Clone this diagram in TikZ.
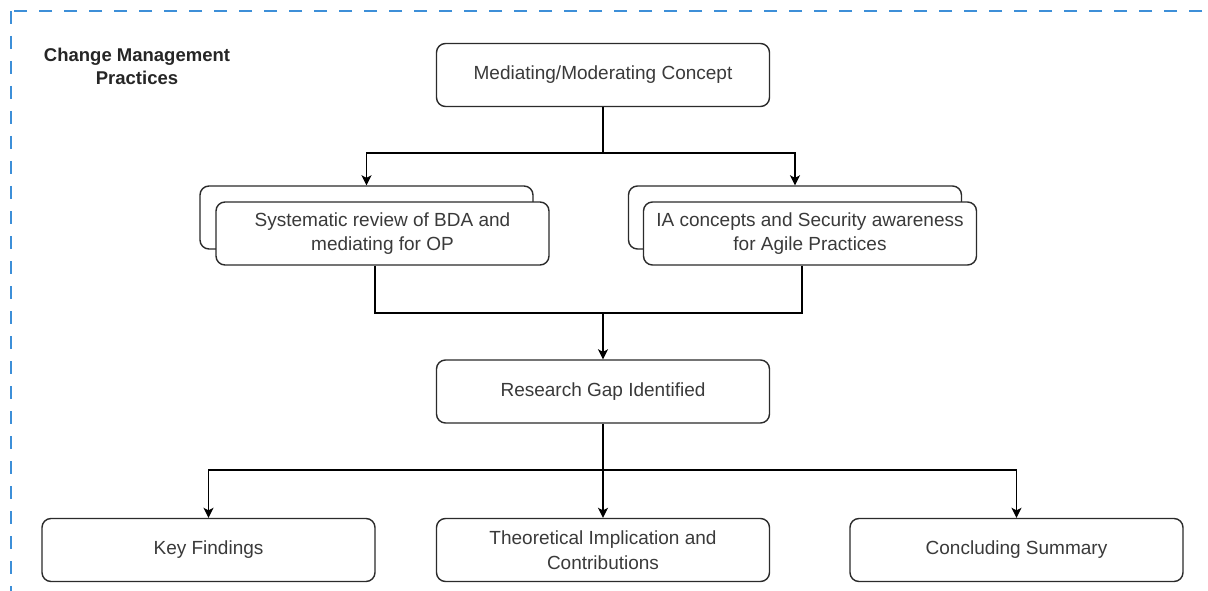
\documentclass[tikz,border=0pt]{standalone}
\usepackage{fontspec}
\setmainfont{Liberation Sans}
\usetikzlibrary{arrows.meta}
\definecolor{framecol}{HTML}{3D8FD8}
\definecolor{inkcol}{HTML}{3A3A3A}
\definecolor{edgecol}{HTML}{2B2B2B}
\begin{document}
\begin{tikzpicture}[x=1pt,y=-1pt,
  box/.style={draw=edgecol, line width=1.4pt, rounded corners=9pt, fill=white,
    minimum width=333pt, minimum height=63pt, inner sep=0pt,
    align=center, text=inkcol, font=\fontsize{19}{24.5}\selectfont},
  link/.style={draw=black, line width=1.4pt},
  arr/.style={link, -{Stealth[length=10pt,width=10pt,inset=2.5pt]}}]
\useasboundingbox (0,0) rectangle (1208,591);
\fill[white] (0,0) rectangle (1208,591);
\begin{scope}
  \clip (0,0) rectangle (1208,591);
  \draw[framecol, line width=1.3pt, dash pattern=on 13pt off 12pt] (11,11) rectangle (1240,640);
\end{scope}

% container label
\node[align=center, text=black!85, font=\bfseries\fontsize{18.5}{23}\selectfont] (title) at (137,66)
  {Change Management\\Practices};

% boxes
\node[box] (top) at (603,75) {Mediating/Moderating Concept};
\node[box] (lb) at (366.5,217.5) {};
\node[box] (lf) at (382.5,233.5) {Systematic review of BDA and\\mediating for OP};
\node[box] (rb) at (795,217.5) {};
\node[box] (rf) at (810,233.5) {IA concepts and Security awareness\\for Agile Practices};
\node[box] (gap) at (603,391.5) {Research Gap Identified};
\node[box] (kf) at (208.5,550) {Key Findings};
\node[box] (th) at (603,550) {Theoretical Implication and\\Contributions};
\node[box] (cs) at (1016.5,550) {Concluding Summary};

% junction points
\coordinate (j1) at (603,153);
\coordinate (j2) at (603,313);
\coordinate (j3) at (603,470);

% connectors
\draw[link] (top.south) -- (j1);
\draw[arr] (j1) -| (lb.north);
\draw[arr] (j1) -| (rb.north);
\draw[link] ([xshift=-7.5pt]lf.south) |- (j2);
\draw[link] ([xshift=-8pt]rf.south) |- (j2);
\draw[arr] (j2) -- (gap.north);
\draw[link] (gap.south) -- (j3);
\draw[arr] (j3) -| (kf.north);
\draw[arr] (j3) -- (th.north);
\draw[arr] (j3) -| (cs.north);
\end{tikzpicture}
\end{document}
